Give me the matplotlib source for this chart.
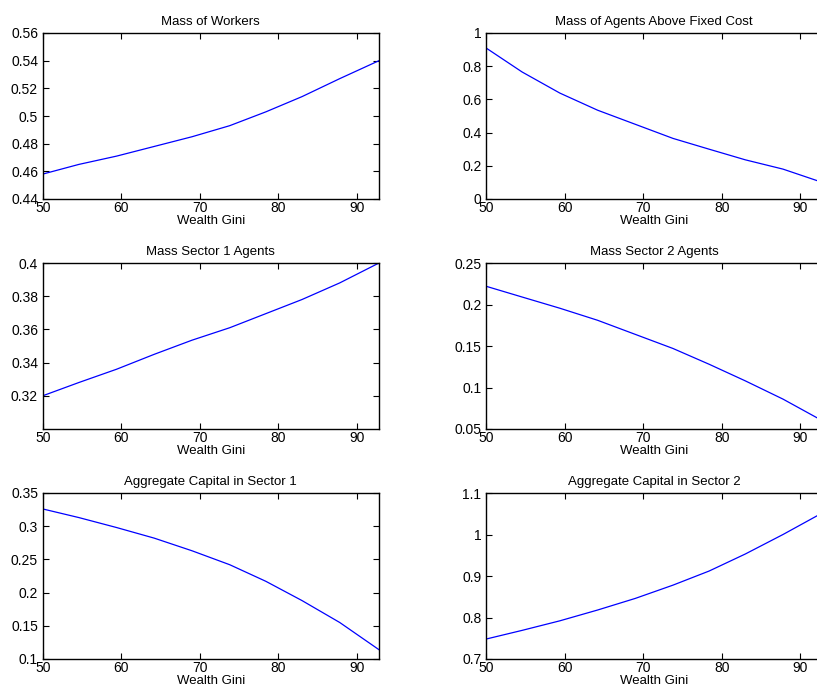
import matplotlib
matplotlib.use("Agg")
import matplotlib.pyplot as plt
from matplotlib.ticker import FuncFormatter

plt.rcParams['font.family'] = ['Liberation Sans', 'DejaVu Sans']

gini = [50.0, 54.6, 59.4, 64.2, 69.0, 73.8, 78.4, 83.0, 87.8, 92.8]

mass_workers = [0.458, 0.465, 0.471, 0.478, 0.485, 0.493, 0.503, 0.514, 0.527, 0.540]
mass_above_fixed = [0.91, 0.765, 0.638, 0.535, 0.45, 0.365, 0.30, 0.236, 0.180, 0.10]
mass_sector1 = [0.320, 0.328, 0.336, 0.345, 0.3535, 0.361, 0.3695, 0.378, 0.388, 0.400]
mass_sector2 = [0.222, 0.209, 0.1955, 0.181, 0.164, 0.147, 0.128, 0.108, 0.086, 0.060]
capital_sector1 = [0.326, 0.313, 0.298, 0.282, 0.263, 0.242, 0.217, 0.188, 0.155, 0.114]
capital_sector2 = [0.748, 0.769, 0.792, 0.818, 0.846, 0.878, 0.912, 0.953, 1.000, 1.052]

titles = ["Mass of Workers", "Mass of Agents Above Fixed Cost",
          "Mass Sector 1 Agents", "Mass Sector 2 Agents",
          "Aggregate Capital in Sector 1", "Aggregate Capital in Sector 2"]
series = [mass_workers, mass_above_fixed, mass_sector1, mass_sector2,
          capital_sector1, capital_sector2]
ylims = [(0.44, 0.56), (0, 1), (0.30, 0.40), (0.05, 0.25), (0.1, 0.35), (0.7, 1.1)]
yticks = [[0.44, 0.46, 0.48, 0.50, 0.52, 0.54, 0.56],
          [0, 0.2, 0.4, 0.6, 0.8, 1.0],
          [0.32, 0.34, 0.36, 0.38, 0.40],
          [0.05, 0.10, 0.15, 0.20, 0.25],
          [0.10, 0.15, 0.20, 0.25, 0.30, 0.35],
          [0.7, 0.8, 0.9, 1.0, 1.1]]
xticks = [50, 60, 70, 80, 90]

fig = plt.figure(figsize=(8.17, 6.93), dpi=100)
W, H = 817, 693
lefts = [42.7, 486]
tops = [33, 263, 493]
aw = 379 - 42.7
ah = 166

fmt = FuncFormatter(lambda v, p: ("%g" % round(v, 4)))

for i in range(6):
    r, c = divmod(i, 2)
    ax = fig.add_axes([lefts[c] / W, 1 - (tops[r] + ah) / H, aw / W, ah / H])
    ax.plot(gini, series[i], color=(0, 0, 1), lw=0.9)
    ax.set_xlim(gini[0], gini[-1])
    ax.set_ylim(*ylims[i])
    ax.set_xticks(xticks)
    ax.set_yticks(yticks[i])
    ax.xaxis.set_major_formatter(fmt)
    ax.yaxis.set_major_formatter(fmt)
    ax.tick_params(direction='in', length=4, width=0.8, top=True, right=(c == 0),
                   labelsize=10, colors='black')
    ax.tick_params(axis='x', pad=1.5)
    ax.tick_params(axis='y', pad=3.3)
    for s in ax.spines.values():
        s.set_linewidth(1.0)
    ax.set_title(titles[i], fontsize=9.5, pad=6)
    ax.set_xlabel("Wealth Gini", fontsize=9.5, labelpad=0)

fig.savefig("out.png", dpi=100)
